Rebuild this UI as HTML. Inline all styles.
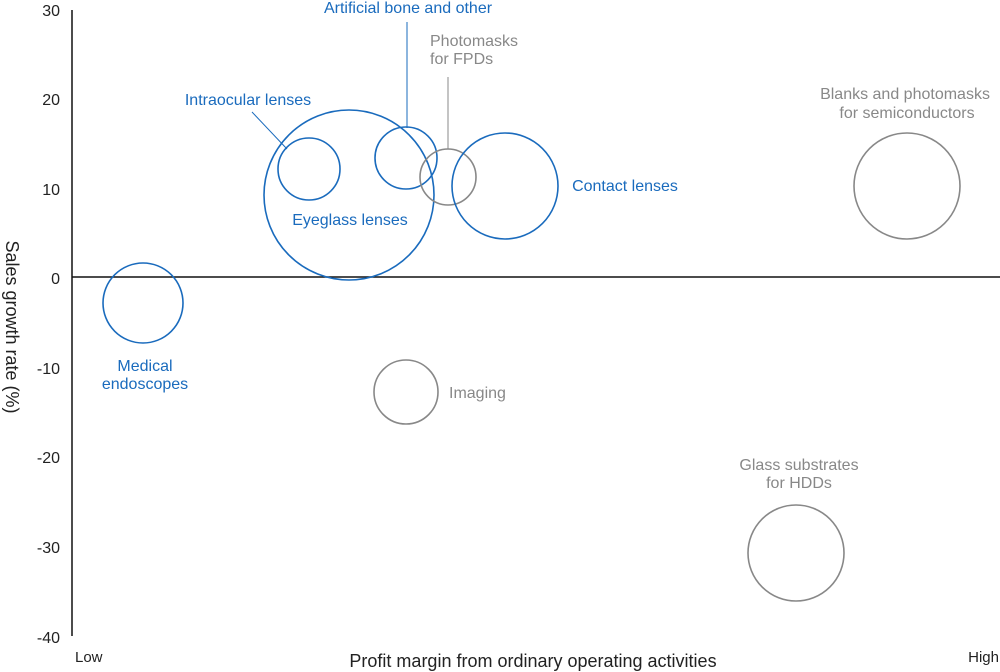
<!DOCTYPE html>
<html><head><meta charset="utf-8"><style>
html,body{margin:0;padding:0;background:#fff;}
svg{display:block;font-family:"Liberation Sans",sans-serif;}
</style></head><body>
<svg width="1000" height="672" viewBox="0 0 1000 672">
<line x1="72" y1="10" x2="72" y2="636" stroke="#111" stroke-width="1.5"/>
<line x1="72" y1="277" x2="1000" y2="277" stroke="#111" stroke-width="1.5"/>
<g font-size="16" fill="#222" text-anchor="end">
<text x="60" y="16">30</text>
<text x="60" y="105">20</text>
<text x="60" y="195">10</text>
<text x="60" y="284">0</text>
<text x="60" y="374">-10</text>
<text x="60" y="463">-20</text>
<text x="60" y="553">-30</text>
<text x="60" y="643">-40</text>
</g>
<text x="75" y="662" font-size="15" fill="#222">Low</text>
<text x="999" y="662" font-size="15" fill="#222" text-anchor="end">High</text>
<text x="533" y="667" font-size="18" fill="#222" text-anchor="middle">Profit margin from ordinary operating activities</text>
<text transform="translate(6,327) rotate(90)" font-size="18" fill="#222" text-anchor="middle">Sales growth rate (%)</text>
<g fill="none" stroke-width="1.6">
<circle cx="349" cy="195" r="85" stroke="#1a6bbd"/>
<circle cx="309" cy="169" r="31" stroke="#1a6bbd"/>
<circle cx="406" cy="158" r="31" stroke="#1a6bbd"/>
<circle cx="448" cy="177" r="28" stroke="#888"/>
<circle cx="505" cy="186" r="53" stroke="#1a6bbd"/>
<circle cx="143" cy="303" r="40" stroke="#1a6bbd"/>
<circle cx="406" cy="392" r="32" stroke="#888"/>
<circle cx="907" cy="186" r="53" stroke="#888"/>
<circle cx="796" cy="553" r="48" stroke="#888"/>
</g>
<line x1="252" y1="112" x2="287" y2="149" stroke="#1a6bbd" stroke-width="1"/>
<line x1="407" y1="22" x2="407" y2="128" stroke="#1a6bbd" stroke-width="1"/>
<line x1="448" y1="77" x2="448" y2="149" stroke="#888" stroke-width="1"/>
<g font-size="16" fill="#1a6bbd">
<text x="408" y="13" text-anchor="middle">Artificial bone and other</text>
<text x="248" y="105" text-anchor="middle">Intraocular lenses</text>
<text x="350" y="225" text-anchor="middle">Eyeglass lenses</text>
<text x="625" y="191" text-anchor="middle">Contact lenses</text>
<text x="145" y="371" text-anchor="middle">Medical</text>
<text x="145" y="389" text-anchor="middle">endoscopes</text>
</g>
<g font-size="16" fill="#888">
<text x="430" y="46">Photomasks</text>
<text x="430" y="64">for FPDs</text>
<text x="449" y="398">Imaging</text>
<text x="905" y="99" text-anchor="middle">Blanks and photomasks</text>
<text x="907" y="118" text-anchor="middle">for semiconductors</text>
<text x="799" y="470" text-anchor="middle">Glass substrates</text>
<text x="799" y="488" text-anchor="middle">for HDDs</text>
</g>
</svg>
</body></html>
